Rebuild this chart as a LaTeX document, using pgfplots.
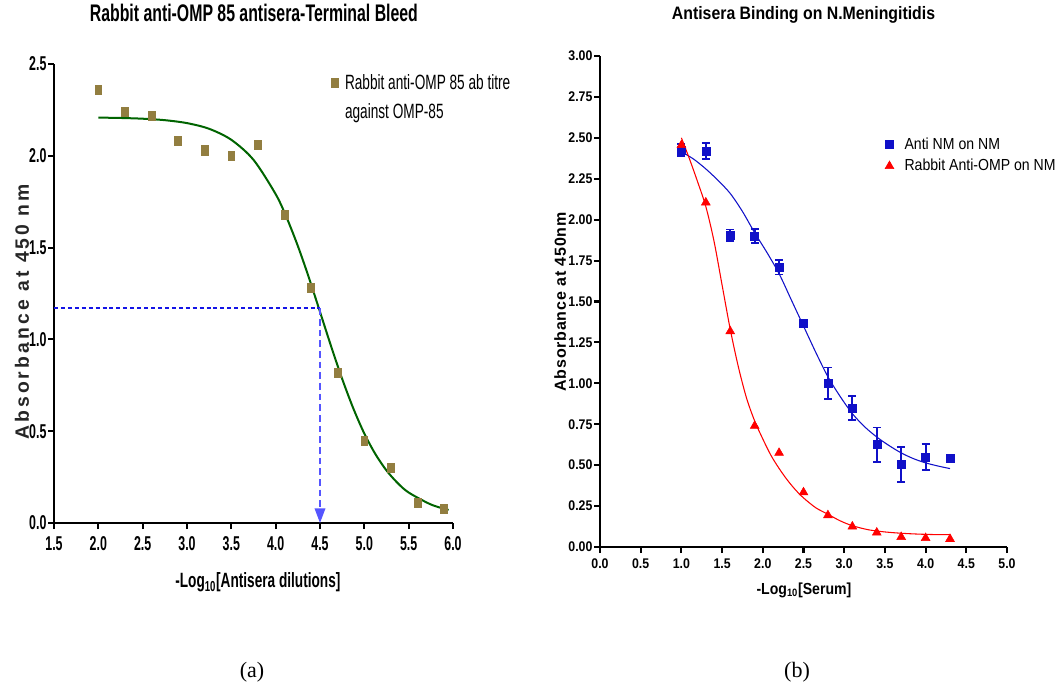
\documentclass[border=0pt]{standalone}
\usepackage{fontspec}
\setmainfont{Liberation Sans}
\newfontfamily\fA[FakeStretch=0.66]{Liberation Sans}
\newfontfamily\fAt[FakeStretch=0.62]{Liberation Sans}
\newfontfamily\fB[FakeStretch=0.88]{Liberation Sans}
\newfontfamily\fAy[LetterSpace=16]{Liberation Sans}
\newfontfamily\fBy[LetterSpace=5]{Liberation Sans}
\newfontfamily\fS{Liberation Serif}
\usepackage{pgfplots}
\pgfplotsset{compat=1.18}
\usetikzlibrary{arrows.meta}
\definecolor{olivesq}{RGB}{146,126,64}
\definecolor{dgreen}{RGB}{0,100,0}
\definecolor{nmblue}{RGB}{16,16,200}
\definecolor{dashblue}{RGB}{20,20,230}
\definecolor{arrblue}{RGB}{85,85,255}
\begin{document}
\begin{tikzpicture}
\path[use as bounding box] (0pt,0pt) rectangle (796.5pt,519pt);
% ---------- (a) ----------
\begin{axis}[
  at={(40.5pt,126.75pt)}, anchor=south west,
  scale only axis, width=299.25pt, height=344.25pt,
  xmin=1.5, xmax=6.0, ymin=0, ymax=2.5,
  axis x line*=bottom, axis y line*=left,
  axis line style={-, line width=1.9pt},
  xtick={1.5,2.0,...,6.0}, ytick={0,0.5,...,2.5},
  tick align=outside, major tick length=4.5pt,
  tick style={line width=1.6pt, black},
  /pgf/number format/.cd, fixed, fixed zerofill, precision=1, assume math mode=true,
  /pgfplots/.cd,
  ticklabel style={font=\fAt\bfseries\fontsize{15pt}{17pt}\selectfont},
  yticklabel style={inner sep=1pt},
  xticklabel style={yshift=-2pt},
  clip=false,
  title={\fA\bfseries\fontsize{18pt}{20pt}\selectfont Rabbit anti-OMP 85 antisera-Terminal Bleed},
  title style={at={(axis description cs:0.501,1.094)}, anchor=center},
  xlabel={\fA\bfseries\fontsize{15.5pt}{17pt}\selectfont -Log\textsubscript{10}[Antisera dilutions]},
  xlabel style={at={(axis description cs:0.511,-0.13)}, anchor=center},
  ylabel={\fAy\bfseries\fontsize{14.5pt}{16pt}\selectfont Absorbance at 450 nm},
  ylabel style={at={(axis description cs:-0.080,0.46)}, rotate=0, anchor=center, color=black!85},
  legend style={at={(axis description cs:0.665,0.99)}, anchor=north west, draw=none, fill=none,
    font=\fA\fontsize{15.5pt}{17pt}\selectfont, row sep=5pt, column sep=3pt},
  legend cell align=left,
]
\addplot[only marks, mark=square*, color=olivesq, mark size=3.4pt, mark options={xscale=0.75}]
 coordinates {(2.0,2.36)(2.3,2.24)(2.6,2.22)(2.9,2.08)(3.2,2.03)(3.5,2.00)(3.8,2.06)
 (4.1,1.68)(4.4,1.28)(4.7,0.82)(5.0,0.45)(5.3,0.30)(5.6,0.11)(5.9,0.08)};
\addlegendentry{Rabbit anti-OMP 85 ab titre}
\addlegendimage{empty legend}
\addlegendentry{against OMP-85}
\addplot[smooth, color=dgreen, line width=1.5pt, forget plot]
 coordinates {(2.0,2.208)(2.25,2.206)(2.5,2.202)(2.75,2.194)(3.0,2.178)(3.25,2.147)(3.5,2.087)
 (3.75,1.978)(4.0,1.791)(4.125,1.662)(4.25,1.509)(4.375,1.336)(4.5,1.150)(4.625,0.963)
 (4.75,0.785)(4.875,0.625)(5.0,0.487)(5.125,0.375)(5.25,0.286)(5.375,0.218)(5.5,0.166)
 (5.75,0.101)(5.95,0.071)};
\addplot[color=dashblue, line width=1.5pt, dash pattern=on 3pt off 2.2pt, forget plot]
 coordinates {(1.5,1.17)(4.5,1.17)};
\addplot[draw=arrblue, line width=1.1pt, dash pattern=on 5pt off 3pt, forget plot,
  -{Triangle[length=11pt, width=8pt, fill=arrblue]}]
 coordinates {(4.5,1.17)(4.5,0.0)};
\end{axis}
% ---------- (b) ----------
\begin{axis}[
  at={(450pt,108.75pt)}, anchor=south west,
  scale only axis, width=305.25pt, height=368.25pt,
  xmin=0, xmax=5.0, ymin=0, ymax=3.0,
  axis x line*=bottom, axis y line*=left,
  axis line style={-, line width=1.9pt},
  xtick={0,0.5,...,5.0}, ytick={0,0.25,...,3.0},
  tick align=outside, major tick length=4.5pt,
  tick style={line width=1.6pt, black},
  /pgf/number format/.cd, fixed, fixed zerofill, precision=2, assume math mode=true,
  /pgfplots/.cd,
  xticklabel={\pgfmathprintnumber[precision=1]{\tick}},
  ticklabel style={font=\fB\bfseries\fontsize{10.5pt}{12pt}\selectfont},
  yticklabel style={inner sep=1pt},
  xticklabel style={yshift=-1pt},
  clip=false,
  title={\fB\bfseries\fontsize{13.5pt}{15pt}\selectfont Antisera Binding on N.Meningitidis},
  title style={at={(axis description cs:0.50,1.067)}, anchor=center},
  xlabel={\fB\bfseries\fontsize{12pt}{14pt}\selectfont -Log\textsubscript{10}[Serum]},
  xlabel style={at={(axis description cs:0.501,-0.0876)}, anchor=center},
  ylabel={\fBy\bfseries\fontsize{12pt}{14pt}\selectfont Absorbance at 450nm},
  ylabel style={at={(axis description cs:-0.098,0.499)}, rotate=0, anchor=center},
  legend style={at={(axis description cs:0.69,0.845)}, anchor=north west, draw=none, fill=none,
    font=\fB\fontsize{12pt}{14pt}\selectfont, row sep=2pt, column sep=6pt},
  legend cell align=left,
]
\addplot[only marks, mark=square*, color=nmblue, mark size=3pt,
  error bars/.cd, y dir=both, y explicit,
  error bar style={line width=1.4pt, nmblue},
  error mark options={rotate=90, mark size=3pt, line width=1.4pt, nmblue}]
 coordinates {(1.0,2.425) +- (0,0.035) (1.3,2.42) +- (0,0.05) (1.6,1.905) +- (0,0.035)
 (1.9,1.90) +- (0,0.045) (2.2,1.71) +- (0,0.045) (2.5,1.37) +- (0,0.0)
 (2.8,1.00) +- (0,0.097) (3.1,0.85) +- (0,0.072) (3.4,0.625) +- (0,0.105)
 (3.7,0.505) +- (0,0.108) (4.0,0.55) +- (0,0.077) (4.3,0.54) +- (0,0.0)};
\addlegendentry{Anti NM on NM}
\addplot[only marks, mark=triangle*, color=red, mark size=3.8pt]
 coordinates {(1.0,2.455)(1.3,2.105)(1.6,1.318)(1.9,0.74)(2.2,0.575)(2.5,0.334)
 (2.8,0.194)(3.1,0.125)(3.4,0.088)(3.7,0.061)(4.0,0.055)(4.3,0.049)};
\addlegendentry{Rabbit Anti-OMP on NM}
\addplot[smooth, color=nmblue, line width=0.8pt, forget plot]
 coordinates {(1.0,2.415)(1.15,2.37)(1.3,2.31)(1.45,2.24)(1.6,2.16)(1.75,2.05)(1.9,1.92)
 (2.05,1.80)(2.2,1.67)(2.35,1.51)(2.5,1.35)(2.65,1.19)(2.8,1.04)(2.95,0.92)(3.1,0.815)
 (3.25,0.735)(3.4,0.672)(3.55,0.62)(3.7,0.575)(3.85,0.54)(4.0,0.514)(4.15,0.495)(4.3,0.479)};
\addplot[smooth, color=red, line width=0.8pt, forget plot]
 coordinates {(1.0,2.50)(1.1,2.37)(1.2,2.23)(1.3,2.08)(1.4,1.87)(1.5,1.60)(1.6,1.33)
 (1.7,1.10)(1.8,0.91)(1.9,0.77)(2.0,0.66)(2.1,0.56)(2.2,0.48)(2.3,0.41)(2.4,0.35)
 (2.5,0.30)(2.65,0.24)(2.8,0.20)(2.95,0.16)(3.1,0.13)(3.3,0.105)(3.5,0.092)(3.7,0.084)
 (3.9,0.079)(4.1,0.076)(4.3,0.075)};
\end{axis}
\node[font=\fS\fontsize{16.5pt}{18pt}\selectfont] at (189pt,15pt) {(a)};
\node[font=\fS\fontsize{16.5pt}{18pt}\selectfont] at (597.75pt,15pt) {(b)};
\end{tikzpicture}
\end{document}
